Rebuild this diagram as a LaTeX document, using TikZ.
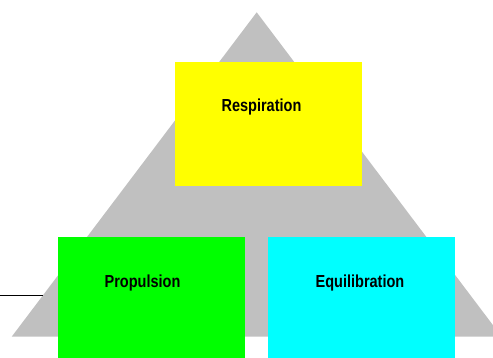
\documentclass[tikz,border=0pt]{standalone}
\usepackage{fontspec}
\setmainfont{Liberation Sans}
\usetikzlibrary{shapes,arrows,backgrounds,positioning,fit}
\definecolor{pyrgray}{RGB}{192,192,192}
\definecolor{resyellow}{RGB}{255,255,0}
\definecolor{prpgreen}{RGB}{0,255,0}
\definecolor{eqcyan}{RGB}{0,255,255}
\begin{document}
\begin{tikzpicture}[x=1pt,y=1pt]
			\tikzstyle{Box}		= [rectangle, draw=none, minimum width=187pt, minimum height=124pt, inner sep=0pt]
			\tikzstyle{Label}	= [font=\bfseries\fontsize{14.5}{16}\selectfont, inner sep=0pt]
			\tikzstyle{Wire}	= [line width=1.5pt, black]

			\useasboundingbox (0,0) rectangle (493,358);
			\clip (0,0) rectangle (493,358);

			\coordinate (apex) at (256.7,345.7);
			\coordinate (bl) at (11.7,21.3);
			\coordinate (br) at (501.7,21.3);
			\fill [pyrgray] (apex) -- (bl) -- (br) -- cycle;

			\node (resp) at (268.5,233.6) [Box, fill=resyellow] {};
			\node (prop) at (151.5,59) [Box, fill=prpgreen] {};
			\node (equi) at (361.5,59) [Box, fill=eqcyan] {};

			\node (resplbl) at ([xshift=-7pt,yshift=-45pt]resp.north) [Label] {\scalebox{1}[1.2]{Respiration}};
			\node (proplbl) at ([xshift=-9pt,yshift=-46pt]prop.north) [Label] {\scalebox{1}[1.2]{Propulsion}};
			\node (equilbl) at ([xshift=-1.5pt,yshift=-46pt]equi.north) [Label] {\scalebox{1}[1.2]{Equilibration}};

			\coordinate (wirestart) at (0,62.3);
			\coordinate (wireend) at (42.7,62.3);
			\draw [-] (wirestart) to (wireend) [Wire];
		\end{tikzpicture}
\end{document}
